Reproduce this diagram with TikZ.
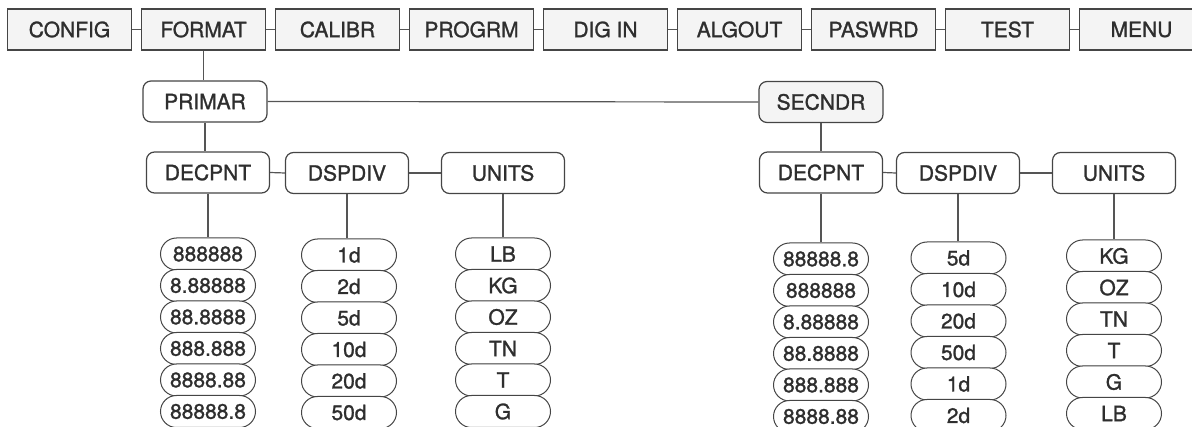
\documentclass[tikz,border=0pt]{standalone}
\usepackage{fontspec}
\setmainfont{TeX Gyre Heros}[FakeBold=1.2]
\definecolor{ink}{HTML}{2E2E2E}
\definecolor{edgec}{HTML}{454545}
\definecolor{wirec}{HTML}{555555}
\definecolor{boxfill}{HTML}{F4F4F4}
\tikzset{
  lbl/.style={text=ink, font=\fontsize{21}{25}\selectfont, inner sep=0pt},
  topbox/.style={lbl, draw=edgec, fill=boxfill, line width=1.2pt, minimum width=124pt, minimum height=41pt},
  subbox/.style={lbl, draw=edgec, fill=white, rounded corners=8pt, line width=1.2pt, minimum width=123pt, minimum height=41pt},
  pill/.style={lbl, draw=edgec, fill=white, rounded corners=16pt, line width=1pt, minimum width=95pt, minimum height=32pt},
  wire/.style={draw=wirec, line width=1.2pt}
}
\begin{document}
\begin{tikzpicture}[x=1pt,y=-1pt]
\useasboundingbox (0,0) rectangle (1192,427);
\clip (0,0) rectangle (1192,427);
% top menu row
\foreach \nm/\t [count=\i from 0] in {config/CONFIG,format/FORMAT,calibr/CALIBR,progrm/PROGRM,digin/DIG IN,algout/ALGOUT,paswrd/PASWRD,test/TEST,menu/MENU}
  \node[topbox] (\nm) at (69.5+134*\i, 29.5) {\t};
\foreach \a/\b in {config/format,format/calibr,calibr/progrm,progrm/digin,digin/algout,algout/paswrd,paswrd/test,test/menu}
  \draw[wire] (\a.east) -- (\b.west);
% second level
\node[subbox, minimum width=124pt] (primar) at (205, 101.5) {PRIMAR};
\node[subbox, minimum width=124pt, fill=boxfill] (secndr) at (821, 102) {SECNDR};
\draw[wire] (format.south) -- (format.south |- primar.north);
\draw[wire] (primar.east) -- (secndr.west);
% third level left
\node[subbox] (decA) at (208, 172.5) {DECPNT};
\node[subbox] (divA) at (347, 173) {DSPDIV};
\node[subbox] (uniA) at (503, 173) {UNITS};
\draw[wire] (primar.south) -- (primar.south |- decA.north);
\draw[wire] (decA.east) -- (divA.west);
\draw[wire] (divA.east) -- (uniA.west);
% third level right
\node[subbox] (decB) at (821, 172.5) {DECPNT};
\node[subbox] (divB) at (958, 173) {DSPDIV};
\node[subbox] (uniB) at (1114, 173) {UNITS};
\draw[wire] (secndr.south) -- (decB.north);
\draw[wire] (decB.east) -- (divB.west);
\draw[wire] (divB.east) -- (uniB.west);
% left pills
\foreach \t [count=\k from 0] in {888888,8.88888,88.8888,888.888,8888.88,88888.8}
  \node[pill] (pa\k) at (208, 254+31.5*\k) {\t};
\foreach \t [count=\k from 0] in {1d,2d,5d,10d,20d,50d}
  \node[pill] (pb\k) at (349, 255+31.5*\k) {\t};
\foreach \t [count=\k from 0] in {LB,KG,OZ,TN,T,G}
  \node[pill] (pc\k) at (503, 254+31.5*\k) {\t};
% right pills
\foreach \t [count=\k from 0] in {88888.8,888888,8.88888,88.8888,888.888,8888.88}
  \node[pill] (pd\k) at (821, 259+31.5*\k) {\t};
\foreach \t [count=\k from 0] in {5d,10d,20d,50d,1d,2d}
  \node[pill] (pe\k) at (958.5, 258+31.5*\k) {\t};
\foreach \t [count=\k from 0] in {KG,OZ,TN,T,G,LB}
  \node[pill] (pf\k) at (1114, 256+31.5*\k) {\t};
% drops to lists
\draw[wire] (decA.south) -- (pa0.north);
\draw[wire] (divA.south) -- (divA.south |- pb0.north);
\draw[wire] (uniA.south) -- (pc0.north);
\draw[wire] (decB.south) -- (pd0.north);
\draw[wire] (divB.south) -- (divB.south |- pe0.north);
\draw[wire] (uniB.south) -- (pf0.north);
\end{tikzpicture}
\end{document}
